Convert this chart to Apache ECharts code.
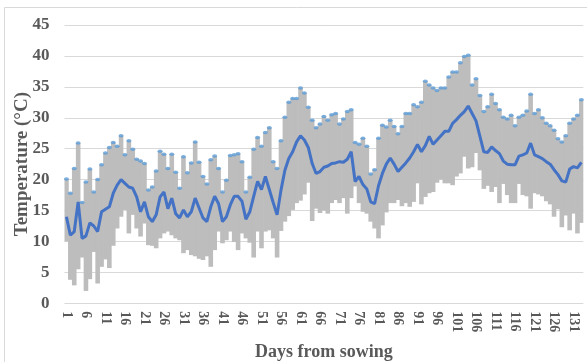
<!DOCTYPE html>
<html>
<head>
<meta charset="utf-8">
<script src="https://cdn.jsdelivr.net/npm/echarts@6/dist/echarts.min.js"></script>
<style>
  html, body { margin: 0; padding: 0; background: #ffffff; }
  #chart { width: 587px; height: 362px; }
</style>
</head>
<body>
<div id="chart"></div>
<script>
// Daily maximum air temperature (°C), days 1..133 from sowing
const maxTemp = [
  20.1, 17.8, 21.8, 25.9, 16.3, 19.6, 21.7, 18.0, 20.0, 22.4,
  24.3, 25.2, 26.0, 25.4, 27.1, 24.0, 26.3, 24.9, 23.3, 23.0,
  22.6, 18.3, 18.8, 21.4, 24.6, 24.1, 21.8, 24.1, 21.2, 18.6,
  23.7, 21.1, 22.7, 26.1, 22.8, 20.5, 19.3, 23.2, 23.8, 21.8,
  18.0, 19.9, 23.9, 24.0, 24.2, 22.9, 18.0, 20.4, 24.9, 26.8,
  25.4, 27.6, 28.4, 22.9, 21.8, 26.3, 30.1, 32.5, 33.1, 33.1,
  34.8, 34.0, 31.7, 29.6, 28.4, 29.0, 30.2, 29.6, 30.5, 30.7,
  29.0, 29.8, 31.0, 31.3, 26.0, 25.7, 26.7, 25.4, 20.9, 21.6,
  26.7, 28.8, 28.5, 29.6, 28.6, 27.4, 28.6, 30.7, 30.7, 32.1,
  31.8, 32.5, 35.9, 35.3, 34.8, 34.4, 34.8, 34.8, 36.6, 37.4,
  37.4, 38.9, 39.9, 40.1, 35.3, 36.3, 33.6, 31.0, 31.8, 33.8,
  32.3, 31.3, 30.1, 29.8, 30.4, 28.7, 30.1, 30.4, 31.1, 33.8,
  30.7, 31.3, 30.0, 29.1, 28.7, 28.0, 26.6, 26.1, 27.1, 29.1,
  29.8, 30.4, 32.9
];

// Daily minimum air temperature (°C)
const minTemp = [
  10.0, 3.8, 2.9, 5.5, 7.4, 2.0, 3.9, 8.3, 3.2, 5.9,
  7.1, 5.7, 9.3, 12.1, 14.0, 15.1, 11.3, 14.3, 12.1, 10.8,
  12.9, 9.4, 9.3, 8.9, 10.5, 11.3, 11.6, 11.0, 10.5, 10.2,
  8.1, 8.6, 7.8, 7.6, 7.2, 7.0, 7.6, 5.9, 8.6, 11.6,
  9.7, 10.2, 11.6, 9.9, 8.6, 11.3, 10.5, 9.8, 7.4, 11.6,
  8.9, 11.6, 11.8, 10.5, 7.4, 11.7, 13.2, 14.1, 15.1, 16.2,
  16.6, 17.6, 19.5, 13.3, 15.3, 14.6, 15.0, 14.5, 16.2, 16.7,
  16.2, 17.0, 14.5, 17.0, 18.9, 16.2, 14.8, 14.5, 13.2, 12.1,
  10.5, 12.6, 14.7, 16.2, 16.2, 16.7, 15.7, 16.2, 15.6, 16.4,
  19.4, 16.0, 17.2, 17.8, 18.0, 19.5, 20.0, 19.4, 19.4, 19.1,
  20.5, 21.0, 23.7, 21.8, 22.0, 24.3, 21.5, 18.5, 19.0, 18.0,
  18.8, 16.2, 19.3, 17.5, 16.2, 16.2, 19.3, 17.5, 17.3, 15.3,
  17.8, 17.6, 17.3, 16.5, 16.0, 14.0, 15.2, 12.3, 14.2, 11.8,
  14.5, 11.3, 13.0
];

// Daily mean air temperature (°C)
const meanTemp = [
  14.0, 11.0, 11.6, 16.4, 10.5, 10.9, 13.0, 12.5, 11.6, 14.8,
  15.2, 15.6, 17.8, 19.1, 20.0, 19.4, 18.8, 18.6, 17.2, 14.8,
  16.4, 14.0, 13.2, 14.3, 17.2, 18.0, 15.3, 17.0, 14.5, 13.8,
  15.1, 14.0, 14.8, 17.0, 15.4, 13.8, 13.2, 15.6, 17.3, 16.1,
  13.2, 14.0, 15.9, 17.3, 17.3, 16.5, 13.6, 14.8, 17.3, 19.7,
  18.4, 20.5, 18.4, 16.3, 14.3, 18.3, 21.5, 23.4, 24.5, 26.1,
  27.1, 26.4, 25.2, 22.6, 21.0, 21.3, 22.0, 22.2, 22.6, 22.7,
  22.9, 22.8, 23.3, 24.5, 19.7, 20.5, 19.2, 18.5, 16.4, 16.1,
  19.0, 21.0, 22.5, 23.5, 22.5, 21.3, 22.0, 22.7, 23.5, 24.5,
  25.7, 24.5, 25.5, 27.0, 25.7, 26.4, 27.1, 27.8, 27.8, 29.1,
  29.7, 30.4, 31.0, 31.9, 30.7, 29.5, 27.0, 24.5, 24.4, 25.3,
  24.7, 24.2, 23.0, 22.5, 22.4, 22.4, 23.8, 24.0, 24.3, 25.9,
  24.0, 23.7, 23.4, 22.9, 22.5, 21.6, 20.8, 19.8, 19.6, 21.7,
  22.1, 21.9, 22.8
];

// Y axis range and step
const yMin = 0, yMax = 45, yStep = 5;

// Category labels: day numbers from sowing
const days = maxTemp.map((_, i) => String(i + 1));

// Height of each daily range bar, stacked on top of the minimum
const rangeTemp = maxTemp.map((v, i) => +(v - minTemp[i]).toFixed(2));

const FONT = '"Liberation Serif", "Times New Roman", serif';
const TEXT = '#595959';
const BAR = '#bdbdbd';

const chart = echarts.init(document.getElementById('chart'), null, { renderer: 'canvas' });

chart.setOption({
  animation: false,
  backgroundColor: '#ffffff',
  grid: {
    left: 64.5, right: 3.7, top: 25, bottom: 58.7,
    containLabel: false,
    outerBoundsMode: 'none'
  },
  graphic: [{
    type: 'rect',
    shape: { x: 4.5, y: 7.5, width: 600, height: 400 },
    style: { fill: 'none', stroke: '#d9d9d9', lineWidth: 1 },
    silent: true
  }],
  xAxis: {
    type: 'category',
    data: days,
    boundaryGap: true,
    name: 'Days from sowing',
    nameLocation: 'middle',
    nameGap: 40,
    nameMoveOverlap: false,
    nameTextStyle: { fontFamily: FONT, fontWeight: 'bold', fontSize: 18, color: TEXT },
    axisLine: { show: false },
    axisTick: { show: false },
    axisLabel: {
      interval: 4,
      rotate: -90,
      margin: 8,
      fontFamily: FONT, fontWeight: 'bold', fontSize: 14, color: TEXT
    },
    splitLine: { show: false }
  },
  yAxis: {
    type: 'value',
    min: yMin, max: yMax, interval: yStep,
    name: 'Temperature (°C)',
    nameLocation: 'middle',
    nameGap: 33,
    nameMoveOverlap: false,
    nameRotate: 90,
    nameTextStyle: { fontFamily: FONT, fontWeight: 'bold', fontSize: 19, color: TEXT },
    axisLine: { show: false },
    axisTick: { show: false },
    axisLabel: { margin: 15, fontFamily: FONT, fontWeight: 'bold', fontSize: 17, color: TEXT },
    splitLine: { lineStyle: { color: '#d9d9d9', width: 1 } }
  },
  series: [
    {
      name: 'base',
      type: 'bar',
      stack: 'range',
      data: minTemp,
      itemStyle: { color: 'rgba(0,0,0,0)' },
      barWidth: 4.6,
      silent: true
    },
    {
      name: 'Range',
      type: 'bar',
      stack: 'range',
      data: rangeTemp,
      itemStyle: { color: BAR },
      barWidth: 4.6
    },
    {
      name: 'Max',
      type: 'scatter',
      data: maxTemp,
      symbol: 'circle',
      symbolSize: [5, 3.5],
      itemStyle: { color: '#5b9bd5' },
      z: 3
    },
    {
      name: 'Mean',
      type: 'line',
      data: meanTemp,
      showSymbol: false,
      symbol: 'none',
      lineStyle: { color: '#4472c4', width: 3 },
      z: 4
    }
  ]
});
</script>
</body>
</html>
